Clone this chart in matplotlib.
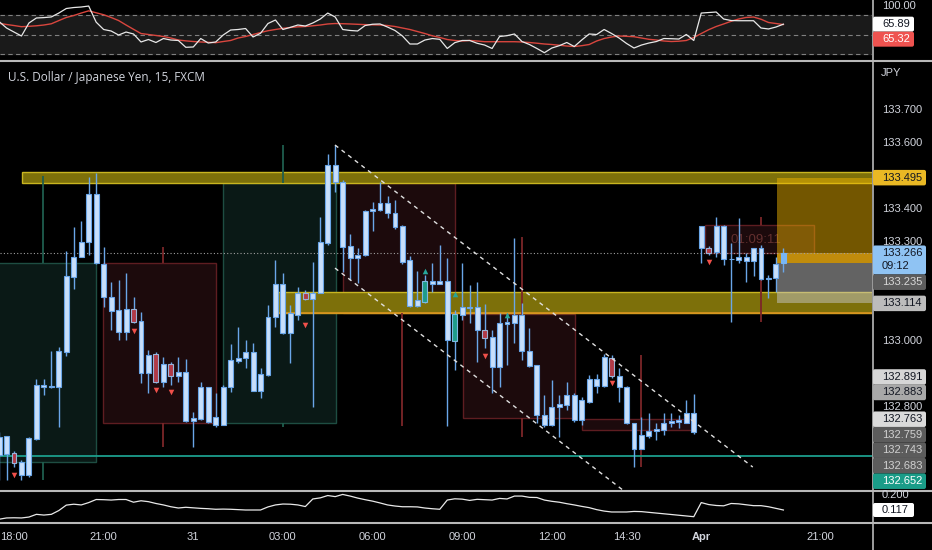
import numpy as np
import matplotlib
matplotlib.use("Agg")
import matplotlib.pyplot as plt
from matplotlib.patches import Rectangle, FancyBboxPatch

W, H = 932, 550
AXIS_X = 872        # px where the price scale starts
BAR_PX = 7.47       # px per 15 min bar
BAR0_PX = 14        # px of bar 0 (18:00)

BG = "#000000"
TXT = "#d1d4dc"
SEP = "#b8b8b8"
NUM_FONT = "Liberation Sans"

# ---------------- data ----------------
bar_idx = list(range(-2, 104))

opens = [132.655, 132.712, 132.661, 132.633, 132.594, 132.703, 132.867, 132.861, 132.861, 132.967,
         133.194, 133.255, 133.300, 133.445, 133.233, 133.133, 133.094, 133.027, 133.097, 133.061,
         132.903, 132.961, 132.876, 132.930, 132.894, 132.906, 132.758, 132.764, 132.861, 132.745,
         132.745, 132.861, 132.939, 132.948, 132.967, 132.848, 132.897, 133.073, 133.173, 133.024,
         133.079, 133.145, 133.127, 133.145, 133.297, 133.533, 133.482, 133.288, 133.252, 133.261,
         133.394, 133.397, 133.418, 133.388, 133.348, 133.245, 133.106, 133.118, 133.182, 133.173,
         133.182, 133.000, 133.079, 133.103, 133.103, 133.033, 133.012, 132.921, 133.052, 133.055,
         133.079, 132.970, 132.927, 132.776, 132.745, 132.800, 132.806, 132.836, 132.761, 132.815,
         132.885, 132.864, 132.948, 132.894, 132.861, 132.752, 132.673, 132.712, 132.727, 132.730,
         132.752, 132.755, 132.752, 132.782, 133.282, 133.282, 133.270, 133.348, 133.248, 133.245,
         133.255, 133.242, 133.282, 133.188, 133.191, 133.236]
highs = [132.724, 132.712, 132.667, 132.639, 132.709, 132.885, 132.885, 132.970, 132.982, 133.273,
         133.345, 133.364, 133.497, 133.509, 133.285, 133.179, 133.185, 133.206, 133.133, 133.088,
         132.973, 132.967, 132.952, 132.936, 132.952, 132.945, 132.785, 132.876, 132.861, 132.842,
         132.867, 132.991, 133.042, 133.003, 132.994, 132.918, 133.109, 133.245, 133.206, 133.109,
         133.164, 133.155, 133.239, 133.376, 133.567, 133.594, 133.488, 133.324, 133.282, 133.397,
         133.421, 133.482, 133.439, 133.427, 133.352, 133.258, 133.212, 133.200, 133.236, 133.291,
         133.252, 133.094, 133.236, 133.170, 133.179, 133.112, 133.033, 133.085, 133.085, 133.312,
         133.115, 133.039, 132.927, 132.836, 132.882, 132.836, 132.876, 132.842, 132.830, 132.897,
         132.900, 132.961, 132.958, 132.918, 132.864, 132.752, 132.770, 132.782, 132.752, 132.782,
         132.782, 132.776, 132.821, 132.839, 133.348, 133.288, 133.376, 133.352, 133.297, 133.373,
         133.267, 133.282, 133.291, 133.200, 133.255, 133.282]
lows = [132.579, 132.579, 132.618, 132.579, 132.588, 132.700, 132.836, 132.858, 132.739, 132.955,
        133.158, 133.255, 133.261, 133.233, 133.103, 133.033, 133.003, 133.003, 133.055, 132.873,
        132.842, 132.873, 132.861, 132.867, 132.876, 132.755, 132.679, 132.761, 132.752, 132.739,
        132.745, 132.845, 132.933, 132.918, 132.848, 132.827, 132.894, 133.042, 133.021, 132.933,
        133.064, 133.124, 132.800, 133.145, 133.291, 133.452, 133.209, 133.185, 133.176, 133.258,
        133.333, 133.394, 133.373, 133.339, 133.233, 133.103, 133.103, 133.115, 133.148, 133.173,
        132.742, 132.912, 133.064, 133.055, 132.936, 132.979, 132.842, 132.861, 132.927, 132.994,
        132.942, 132.921, 132.752, 132.739, 132.742, 132.709, 132.791, 132.755, 132.745, 132.812,
        132.842, 132.861, 132.888, 132.815, 132.748, 132.618, 132.673, 132.706, 132.700, 132.715,
        132.739, 132.736, 132.752, 132.718, 133.236, 133.261, 133.255, 133.230, 133.058, 133.236,
        133.179, 133.197, 133.185, 133.130, 133.148, 133.209]
closes = [132.709, 132.658, 132.630, 132.594, 132.706, 132.867, 132.861, 132.860, 132.970, 133.197,
          133.255, 133.300, 133.445, 133.236, 133.133, 133.091, 133.027, 133.097, 133.058, 132.903,
          132.958, 132.876, 132.930, 132.894, 132.906, 132.758, 132.767, 132.861, 132.755, 132.770,
          132.861, 132.942, 132.948, 132.967, 132.848, 132.900, 133.073, 133.173, 133.024, 133.085,
          133.145, 133.127, 133.145, 133.300, 133.533, 133.482, 133.285, 133.252, 133.261, 133.394,
          133.400, 133.418, 133.388, 133.345, 133.239, 133.106, 133.124, 133.182, 133.173, 133.182,
          133.003, 133.082, 133.103, 133.101, 133.033, 133.009, 132.921, 133.055, 133.058, 133.079,
          132.970, 132.924, 132.776, 132.745, 132.800, 132.809, 132.836, 132.761, 132.821, 132.885,
          132.864, 132.952, 132.894, 132.861, 132.752, 132.673, 132.715, 132.727, 132.733, 132.752,
          132.758, 132.761, 132.782, 132.724, 133.348, 133.267, 133.348, 133.248, 133.247, 133.255,
          133.242, 133.282, 133.188, 133.191, 133.233, 133.266]

red_bars = [0, 16, 19, 21, 39, 63, 80, 93]
teal_bars = [55, 59]
last_bar = 103

sell_bars = [0, 16, 19, 21, 39, 63, 80, 93]
sell_prices = [132.594, 133.030, 132.852, 132.845, 133.048, 132.955, 132.873, 133.239]
buy_bars = [55, 59, 66]
buy_prices = [133.212, 133.142, 133.079]

rsi = [70, 60, 53.8, 47.7, 67.7, 75.4, 76, 77, 83, 90, 91.5, 92.3, 93.8, 69, 57.7, 55.4, 49.2, 53.8,
       50.8, 38.5, 42.3, 37.7, 43.8, 41.5, 40.8, 30.3, 30.8, 43.8, 36.9, 38.5, 49.2, 56.9, 57.7, 59.2,
       46.2, 51.8, 66.9, 72.3, 57.7, 61, 64.6, 63.1, 67.7, 73.8, 83, 76.9, 57.7, 56.2, 55.4, 63.8,
       65.8, 66.2, 61.5, 56.2, 47.7, 35.4, 35.4, 41.5, 43.8, 42.6, 28.5, 37.4, 40.8, 40.8, 36.5, 33.8,
       28.5, 46.9, 48.2, 50.8, 39.2, 34.6, 28.5, 22, 29.2, 32.8, 37.7, 31.5, 41.5, 50.8, 50, 57.7,
       51.5, 44.6, 36.2, 29.2, 33.8, 36.9, 39.2, 43.8, 43.5, 43, 50, 40.8, 83, 83.8, 84.6, 73.8,
       71.5, 71.2, 71.2, 71.2, 60, 58.5, 61.5, 65.89]
rsi_ma = [67.2, 65.4, 63.8, 62, 62.6, 63.4, 64.6, 66.5, 71.4, 76.2, 79.2, 83, 86.4, 83.4, 80.4, 76.2,
          71.5, 64.6, 58, 51.5, 50, 48.5, 46.9, 44.6, 41.5, 40.2, 39.2, 38.5, 38, 37.4, 39.2, 40.8,
          44.6, 46.9, 50, 53, 55.8, 57.7, 59.5, 60.8, 61.8, 62.3, 63.4, 64.6, 66.2, 66.9, 66.6, 66.2,
          65.7, 65.2, 64.9, 64.6, 63.8, 62.3, 60, 57.7, 54.6, 51.5, 48, 45.4, 42.3, 40.8, 40, 40.8,
          40, 38.9, 38.9, 38.9, 38.9, 38.9, 38.5, 37.7, 36.6, 35.4, 34.6, 33.5, 32.3, 31.5, 32.8,
          34.6, 40, 43.8, 46.2, 47.7, 47.2, 46.6, 44.6, 42.6, 41.5, 40, 39.2, 39.7, 40.8, 45.4, 51.5,
          57.4, 62.3, 66.2, 70.3, 73.8, 76.2, 76.9, 73.5, 68.5, 66.9, 65.32]
vol = [0.066, 0.073, 0.074, 0.073, 0.078, 0.093, 0.089, 0.093, 0.114, 0.144, 0.149, 0.145, 0.158,
       0.175, 0.174, 0.172, 0.175, 0.175, 0.160, 0.168, 0.163, 0.153, 0.145, 0.135, 0.128, 0.132,
       0.129, 0.126, 0.124, 0.121, 0.122, 0.121, 0.119, 0.117, 0.117, 0.117, 0.134, 0.145, 0.150,
       0.149, 0.145, 0.136, 0.178, 0.184, 0.197, 0.191, 0.203, 0.194, 0.183, 0.174, 0.166, 0.156,
       0.145, 0.139, 0.135, 0.135, 0.134, 0.128, 0.124, 0.121, 0.172, 0.179, 0.177, 0.170, 0.176,
       0.174, 0.172, 0.181, 0.178, 0.194, 0.194, 0.187, 0.186, 0.172, 0.165, 0.160, 0.152, 0.145,
       0.137, 0.130, 0.119, 0.111, 0.106, 0.106, 0.106, 0.109, 0.108, 0.104, 0.100, 0.096, 0.092,
       0.088, 0.084, 0.080, 0.158, 0.147, 0.142, 0.140, 0.153, 0.151, 0.146, 0.141, 0.141, 0.135,
       0.126, 0.117]

for arr in (opens, highs, lows, closes, rsi, rsi_ma, vol):
    assert len(arr) == len(bar_idx)

# higher-timeframe candles (boxes + wicks)
htf_start = [-4, 11.9, 28.0, 44.0, 60.1, 76.0, 92.5]
htf_end = [11.0, 27.0, 43.1, 59.0, 75.1, 91.2, 107.1]
htf_top = [133.236, 133.236, 133.479, 133.479, 133.082, 132.764, 133.352]
htf_bottom = [132.633, 132.752, 132.752, 133.085, 132.767, 132.730, 133.267]
htf_high = [133.500, 133.285, 133.594, 133.479, 133.315, 132.958, 133.376]
htf_low = [132.579, 132.679, 132.739, 132.742, 132.709, 132.618, 133.058]
htf_mid = [3.9, 19.9, 36.0, 52.0, 68.0, 84.0, 100.0]
htf_bull = [True, False, True, False, False, False, False]

# supply / demand zones
zone_start = [1.1, 35.3]
zone_top = [133.512, 133.148]
zone_bottom = [133.479, 133.085]

# long-position tool on the right
pos_start = 102.1
pos_target = 133.495
pos_entry = 133.266
pos_mark = 133.236
pos_stop = 133.114

# falling channel
chan_up_x = [42.97, 98.9]
chan_up_y = [133.594, 132.618]
chan_lo_x = [42.97, 82.5]
chan_lo_y = [133.221, 132.531]

teal_level = 132.652
last_price = 133.266

price_ticks = [132.6, 132.7, 132.8, 132.9, 133.0, 133.1, 133.2, 133.3, 133.4, 133.5, 133.6, 133.7]
xtick_bars = [0, 12, 24, 36, 48, 60, 72, 82, 92, 108]
xtick_text = ["18:00", "21:00", "31", "03:00", "06:00", "09:00", "12:00", "14:30", "Apr", "21:00"]

# price scale labels: text, value, background, text colour
main_labels = [
    ("133.495", 133.495, "#e9b824", "#131722"),
    ("133.266\n09:12", 133.266, "#8fc3f3", "#131722"),
    ("133.235", 133.235, "#5c5c5c", "#d8d8d8"),
    ("133.114", 133.114, "#bcbcbc", "#131722"),
    ("132.891", 132.891, "#d6d6d6", "#131722"),
    ("132.883", 132.883, "#a8a8a8", "#131722"),
    ("132.763", 132.763, "#dadada", "#131722"),
    ("132.759", 132.759, "#5c5c5c", "#d0d0d0"),
    ("132.743", 132.743, "#5c5c5c", "#d0d0d0"),
    ("132.683", 132.683, "#5c5c5c", "#d0d0d0"),
    ("132.652", 132.652, "#1a9c88", "#ffffff"),
]
rsi_labels = [
    ("65.89", 65.89, "#ffffff", "#131722"),
    ("65.32", 65.32, "#ef5350", "#ffffff"),
]
vol_labels = [("0.117", 0.117, "#ffffff", "#131722")]

# ---------------- figure ----------------
fig = plt.figure(figsize=(W / 100, H / 100), dpi=100, facecolor=BG)


def px_axes(left, top, right, bottom):
    a = fig.add_axes([left / W, 1 - bottom / H, (right - left) / W, (bottom - top) / H])
    a.set_facecolor(BG)
    a.set_axis_off()
    a.set_xlim(-BAR0_PX / BAR_PX, (AXIS_X - BAR0_PX) / BAR_PX)
    return a


ax_rsi = px_axes(0, 0, AXIS_X, 59.5)
ax = px_axes(0, 62, AXIS_X, 489.5)
ax_vol = px_axes(0, 492, AXIS_X, 521.5)

ax.set_ylim(132.550, 133.8455)
ax_rsi.set_ylim(11.54, 103.08)
ax_vol.set_ylim(0.0534, 0.2165)

x = np.array(bar_idx, dtype=float)

# ---- RSI panel
ax_rsi.axhspan(20, 80, color="#1a1a1a", zorder=0)
for lvl in (80, 50, 20):
    ax_rsi.axhline(lvl, color="#808080", lw=0.8, ls=(0, (4, 3)), zorder=1)
ax_rsi.plot(x, rsi_ma, color="#d9463e", lw=1.0, zorder=2)
ax_rsi.plot(x, rsi, color="#e8e8e8", lw=0.9, zorder=3)

# ---- bottom panel
ax_vol.plot(x, vol, color="#e8e8e8", lw=0.9)

# ---- main panel: HTF candle boxes
for s, e, t, b, hi, lo, m, bull in zip(htf_start, htf_end, htf_top, htf_bottom,
                                      htf_high, htf_low, htf_mid, htf_bull):
    fc = "#0a1916" if bull else "#1c0a0c"
    ec = "#1e4d42" if bull else "#5e1d21"
    wc = "#1f5e4e" if bull else "#7c2628"
    ax.add_patch(Rectangle((s, b), e - s, t - b, facecolor=fc, edgecolor=ec, lw=1, zorder=1))
    ax.vlines(m, t, hi, color=wc, lw=1.3, zorder=3)
    ax.vlines(m, lo, b, color=wc, lw=1.3, zorder=3)

ax.text(95.9, 133.306, "01:09:11", color="#64302f", fontsize=9.5, family=NUM_FONT,
        va="center", ha="left", zorder=1.5)

# zones
x_right = ax.get_xlim()[1] + 1
for s, t, b in zip(zone_start, zone_top, zone_bottom):
    ax.add_patch(Rectangle((s, b), x_right - s, t - b, facecolor="#7d700a",
                           edgecolor="#c9b520", lw=1, zorder=2))
ax.hlines(zone_bottom[1], zone_start[1], x_right, color="#d9921f", lw=1.2, zorder=2.1)

# position tool
ax.add_patch(Rectangle((pos_start, pos_entry), x_right - pos_start, pos_target - pos_entry,
                       facecolor="#f5b800", alpha=0.47, lw=0, zorder=2.5))
ax.add_patch(Rectangle((pos_start, pos_mark), x_right - pos_start, pos_entry - pos_mark,
                       facecolor="#c08c0c", lw=0, zorder=2.5))
ax.add_patch(Rectangle((pos_start, pos_stop), x_right - pos_start, pos_mark - pos_stop,
                       facecolor="#c6c6c6", alpha=0.5, lw=0, zorder=2.5))

# levels
ax.axhline(teal_level, color="#1c9e8c", lw=1.3, zorder=3)
ax.axhline(last_price, color="#a0a0a0", lw=0.8, ls=(0, (1, 2)), zorder=3)

# candles
o = np.array(opens)
c = np.array(closes)
lo_b = np.minimum(o, c)
body = np.maximum(np.abs(c - o), 0.0025)
face, edge = [], []
for i in bar_idx:
    if i in red_bars:
        face.append("#b13a47"); edge.append("#9ab3d8")
    elif i in teal_bars:
        face.append("#1f9c8a"); edge.append("#7fb8e0")
    elif i == last_bar:
        face.append("#78b6f5"); edge.append("#78b6f5")
    else:
        face.append("#c8dffa"); edge.append("#6aa6e8")
ax.vlines(x, lows, highs, color="#6aa6e8", lw=1.0, zorder=4)
ax.bar(x, body, bottom=lo_b, width=0.66, color=face, edgecolor=edge, linewidth=0.8, zorder=5)

ax.scatter(sell_bars, sell_prices, marker="v", s=16, color="#f0504a", lw=0, zorder=6)
ax.scatter(buy_bars, buy_prices, marker="^", s=16, color="#26a69a", lw=0, zorder=6)

# channel
ax.plot(chan_up_x, chan_up_y, color="#e0e0e0", lw=1, ls=(0, (3, 3)), zorder=6)
ax.plot(chan_lo_x, chan_lo_y, color="#e0e0e0", lw=1, ls=(0, (3, 3)), zorder=6)

# ---------------- overlay in pixel coords: separators, scales, labels ----------------
ov = fig.add_axes([0, 0, 1, 1])
ov.set_xlim(0, W)
ov.set_ylim(H, 0)
ov.set_axis_off()
ov.patch.set_alpha(0)
ov.set_zorder(5)


def ypx(a, val):
    return ov.transData.inverted().transform(a.transData.transform((0, val)))[1]


def xpx(a, val):
    return ov.transData.inverted().transform(a.transData.transform((val, 0)))[0]


for yy in (60.5, 490.7, 522.7):
    ov.plot([0, W], [yy, yy], color=SEP, lw=1.5, zorder=2)
ov.plot([AXIS_X + 0.5, AXIS_X + 0.5], [0, H], color=SEP, lw=1.2, zorder=2)

TXT_X = 882


def draw_labels(a, labels, h=15.5):
    """Stack the price-scale labels like TradingView does; return the occupied spans."""
    spans = []
    prev = -1e9
    for text, val, bg, fg in sorted(labels, key=lambda r: -r[1]):
        nat = ypx(a, val)
        lines = text.count("\n") + 1
        bh = h if lines == 1 else 29
        top = max(nat - h / 2, prev)
        prev = top + bh
        spans.append((top, top + bh))
        width = 11 + 6 * len(text.split("\n")[0])
        ov.add_patch(FancyBboxPatch((AXIS_X + 1, top), width, bh,
                                    boxstyle="round,pad=0,rounding_size=2",
                                    facecolor=bg, edgecolor="none", zorder=4))
        for k, ln in enumerate(text.split("\n")):
            ov.text(TXT_X, top + h / 2 + k * 13, ln, color=fg, fontsize=8, family=NUM_FONT,
                    va="center", ha="left", zorder=5)
    return spans


spans = draw_labels(ax, main_labels)
draw_labels(ax_rsi, rsi_labels, h=15)
draw_labels(ax_vol, vol_labels, h=14)

for p in price_ticks:
    yy = ypx(ax, p)
    if any(t - 3 <= yy <= b + 3 for t, b in spans):
        continue  # hidden behind a label box
    ov.text(TXT_X, yy, f"{p:.3f}", color=TXT, fontsize=8, family=NUM_FONT,
            va="center", ha="left", zorder=3)
# the 100.00 tick sits right at the top edge; keep it just inside the figure
ov.text(TXT_X, 1, "100.00", color=TXT, fontsize=8, family=NUM_FONT,
        va="top", ha="left", zorder=3)
ov.text(TXT_X, ypx(ax_vol, 0.200), "0.200", color=TXT, fontsize=8, family=NUM_FONT,
        va="center", ha="left", zorder=3)
ov.text(881, 73, "JPY", color=TXT, fontsize=8, family=NUM_FONT, va="center", ha="left", zorder=3)

for b, s in zip(xtick_bars, xtick_text):
    ov.text(xpx(ax_vol, b), 537, s, color=TXT, fontsize=8, family=NUM_FONT,
            ha="center", va="center", fontweight="bold" if s == "Apr" else "normal")

ov.text(8, 77, "U.S. Dollar / Japanese Yen, 15, FXCM", color=TXT, fontsize=8.5,
        family="Open Sans", ha="left", va="center")

fig.savefig("out.png", dpi=100, facecolor=BG)
